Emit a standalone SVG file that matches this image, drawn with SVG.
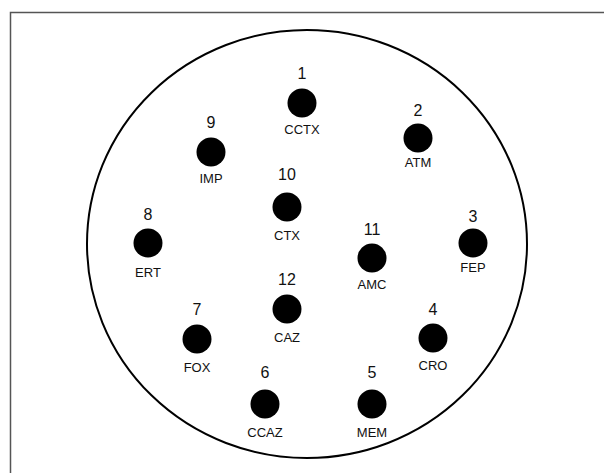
<svg xmlns="http://www.w3.org/2000/svg" width="604" height="473" viewBox="0 0 604 473">
<style>
.dot{fill:#000}
.num{font-family:"Liberation Sans",Arial,sans-serif;font-size:16px;fill:#111;text-anchor:middle}
.lbl{font-family:"Liberation Sans",Arial,sans-serif;font-size:13px;fill:#111;text-anchor:middle}
</style>
<rect width="604" height="473" fill="#fff"/>
<path d="M10.5 473 V12.5 H604" fill="none" stroke="#555" stroke-width="1.5"/>
<ellipse cx="307" cy="244" rx="220" ry="214" fill="none" stroke="#000" stroke-width="2"/>
<g id="connectors"></g>
<g id="n1"><text class="num" x="302" y="79">1</text><circle class="dot" cx="302" cy="103" r="14.5"/><text class="lbl" x="302" y="134">CCTX</text></g>
<g id="n2"><text class="num" x="418" y="116">2</text><circle class="dot" cx="418" cy="138" r="14.5"/><text class="lbl" x="418" y="167">ATM</text></g>
<g id="n3"><text class="num" x="473" y="221.5">3</text><circle class="dot" cx="473" cy="243" r="14.5"/><text class="lbl" x="473" y="272">FEP</text></g>
<g id="n4"><text class="num" x="433" y="315">4</text><circle class="dot" cx="433" cy="338" r="14.5"/><text class="lbl" x="433" y="370">CRO</text></g>
<g id="n5"><text class="num" x="372" y="378">5</text><circle class="dot" cx="372" cy="404" r="14.5"/><text class="lbl" x="372" y="437">MEM</text></g>
<g id="n6"><text class="num" x="265" y="378">6</text><circle class="dot" cx="265" cy="404" r="14.5"/><text class="lbl" x="265" y="437">CCAZ</text></g>
<g id="n7"><text class="num" x="197" y="315">7</text><circle class="dot" cx="197" cy="339" r="14.5"/><text class="lbl" x="197" y="372">FOX</text></g>
<g id="n8"><text class="num" x="148" y="220">8</text><circle class="dot" cx="148" cy="243" r="14.5"/><text class="lbl" x="148" y="277">ERT</text></g>
<g id="n9"><text class="num" x="211" y="128">9</text><circle class="dot" cx="211" cy="152" r="14.5"/><text class="lbl" x="211" y="183">IMP</text></g>
<g id="n10"><text class="num" x="287" y="180">10</text><circle class="dot" cx="287" cy="207" r="14.5"/><text class="lbl" x="287" y="240">CTX</text></g>
<g id="n11"><text class="num" x="372" y="235">11</text><circle class="dot" cx="372" cy="258" r="14.5"/><text class="lbl" x="372" y="289">AMC</text></g>
<g id="n12"><text class="num" x="287" y="285">12</text><circle class="dot" cx="287" cy="309" r="14.5"/><text class="lbl" x="287" y="342">CAZ</text></g>
</svg>
